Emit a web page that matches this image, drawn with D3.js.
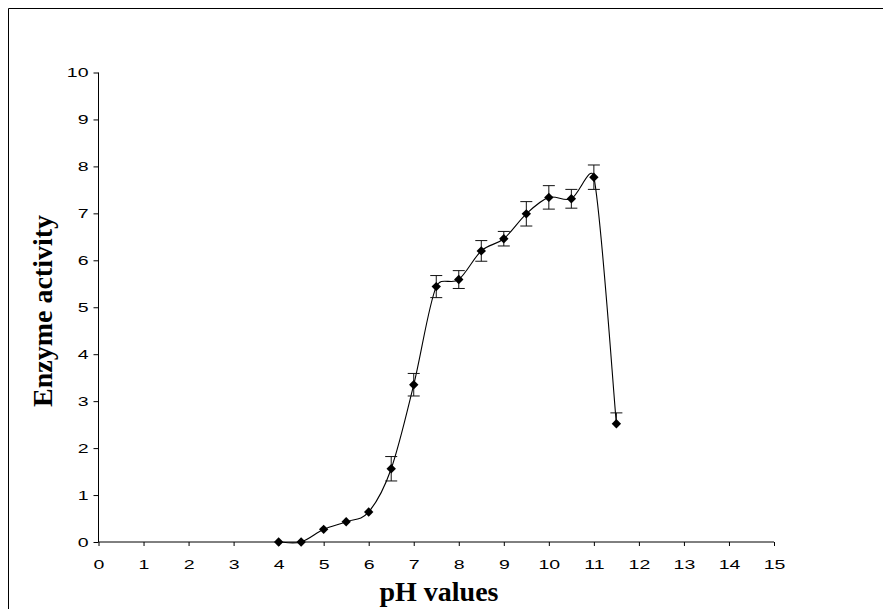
<!DOCTYPE html>
<html>
<head>
<meta charset="utf-8">
<script src="https://cdn.jsdelivr.net/npm/d3@7"></script>
<style>
  html, body { margin: 0; padding: 0; background: #fff; }
  svg { display: block; }
</style>
</head>
<body>
<svg id="chart" width="883" height="609"></svg>
<script>
// pH profile of enzyme activity (mean ± error)
const phValues = [4, 4.5, 5, 5.5, 6, 6.5, 7, 7.5, 8, 8.5, 9, 9.5, 10, 10.5, 11, 11.5];
const activity = [0, 0, 0.27, 0.43, 0.64, 1.56, 3.35, 5.44, 5.59, 6.20, 6.46, 6.99, 7.34, 7.31, 7.77, 2.52];
const errorUp   = [0, 0, 0, 0, 0, 0.26, 0.24, 0.235, 0.19, 0.22, 0.155, 0.26, 0.25, 0.20, 0.26, 0.23];
const errorDown = [0, 0, 0, 0, 0, 0.26, 0.24, 0.235, 0.19, 0.22, 0.155, 0.26, 0.25, 0.20, 0.26, 0];
const xTicks = d3.range(0, 16);
const yTicks = d3.range(0, 11);

const points = phValues.map((ph, i) => ({
  ph, value: activity[i], up: errorUp[i], down: errorDown[i]
}));

const svg = d3.select("#chart");
const sansFont = "'Liberation Sans', Arial, sans-serif";
const serifFont = "'Liberation Serif', 'Times New Roman', serif";
const labelStretch = 1.5;   // tick labels are set wide

// outer chart-area frame (open to the right/bottom beyond the page)
svg.append("path")
  .attr("d", "M8.5,900 L8.5,8.5 L1000,8.5")
  .attr("fill", "none")
  .attr("stroke", "#000")
  .attr("stroke-width", 1);

const x = d3.scaleLinear().domain([0, 15]).range([98.5, 774]);
const y = d3.scaleLinear().domain([0, 10]).range([542, 72.5]);

function widenLabels(sel) {
  sel.attr("font-family", sansFont).attr("font-size", 13).attr("fill", "#000")
    .each(function () {
      const w = this.getComputedTextLength();
      d3.select(this).attr("textLength", w * labelStretch).attr("lengthAdjust", "spacingAndGlyphs");
    });
}

// y axis
const yAxis = svg.append("g")
  .attr("transform", "translate(98.5,0)")
  .call(d3.axisLeft(y).tickValues(yTicks).tickFormat(d3.format("d")).tickSize(5).tickPadding(5));
yAxis.select(".domain").attr("d", `M0,${y(0)}V${y(10)}`).attr("stroke", "#000");
yAxis.selectAll("text").call(widenLabels);

// x axis
const xAxis = svg.append("g")
  .attr("transform", `translate(0,${y(0)})`)
  .call(d3.axisBottom(x).tickValues(xTicks).tickFormat(d3.format("d")).tickSize(4).tickPadding(14));
xAxis.select(".domain").attr("d", `M${x(0)},0H${x(15)}`).attr("stroke", "#000");
xAxis.selectAll("text").call(widenLabels);

// axis titles
svg.append("text")
  .attr("x", 439)
  .attr("y", 601)
  .attr("text-anchor", "middle")
  .attr("font-family", serifFont)
  .attr("font-weight", "bold")
  .attr("font-size", 28)
  .text("pH values");

svg.append("text")
  .attr("transform", "translate(52,311) rotate(-90)")
  .attr("text-anchor", "middle")
  .attr("font-family", serifFont)
  .attr("font-weight", "bold")
  .attr("font-size", 28)
  .text("Enzyme activity");

// smoothed line: cubic Béziers whose control arms are 1/6 of the chord
// between neighbours, shortened to at most half the segment length
function smoothPath(pts) {
  const p = d3.path();
  const dist = (a, b) => Math.hypot(b[0] - a[0], b[1] - a[1]);
  p.moveTo(pts[0][0], pts[0][1]);
  for (let i = 0; i < pts.length - 1; i++) {
    const p0 = pts[Math.max(i - 1, 0)], p1 = pts[i], p2 = pts[i + 1], p3 = pts[Math.min(i + 2, pts.length - 1)];
    const d12 = dist(p1, p2), d02 = dist(p0, p2), d13 = dist(p1, p3);
    const f1 = (d02 / 6 < d12 / 2) ? 1 / 6 : d12 / (2 * d02);
    const f2 = (d13 / 6 < d12 / 2) ? 1 / 6 : d12 / (2 * d13);
    const b1 = [p1[0] + (p2[0] - p0[0]) * f1, p1[1] + (p2[1] - p0[1]) * f1];
    const b2 = [p2[0] - (p3[0] - p1[0]) * f2, p2[1] - (p3[1] - p1[1]) * f2];
    p.bezierCurveTo(b1[0], b1[1], b2[0], b2[1], p2[0], p2[1]);
  }
  return p.toString();
}

svg.append("path")
  .attr("d", smoothPath(points.map(d => [x(d.ph), y(d.value)])))
  .attr("fill", "none")
  .attr("stroke", "#000")
  .attr("stroke-width", 1.1);

// error bars
const capHalf = 6;
const bars = svg.append("g").attr("stroke", "#111").attr("stroke-width", 1)
  .selectAll("g")
  .data(points.filter(d => d.up > 0 || d.down > 0))
  .join("g");

bars.append("line")
  .attr("x1", d => x(d.ph)).attr("x2", d => x(d.ph))
  .attr("y1", d => y(d.value + d.up)).attr("y2", d => y(d.value - d.down));
bars.filter(d => d.up > 0).append("line")
  .attr("x1", d => x(d.ph) - capHalf).attr("x2", d => x(d.ph) + capHalf)
  .attr("y1", d => y(d.value + d.up)).attr("y2", d => y(d.value + d.up));
bars.filter(d => d.down > 0).append("line")
  .attr("x1", d => x(d.ph) - capHalf).attr("x2", d => x(d.ph) + capHalf)
  .attr("y1", d => y(d.value - d.down)).attr("y2", d => y(d.value - d.down));

// diamond markers
const diamond = d3.symbol().type(d3.symbolSquare).size(44);
svg.append("g")
  .selectAll("path")
  .data(points)
  .join("path")
  .attr("d", diamond)
  .attr("transform", d => `translate(${x(d.ph)},${y(d.value)}) rotate(45)`)
  .attr("fill", "#000");
</script>
</body>
</html>
